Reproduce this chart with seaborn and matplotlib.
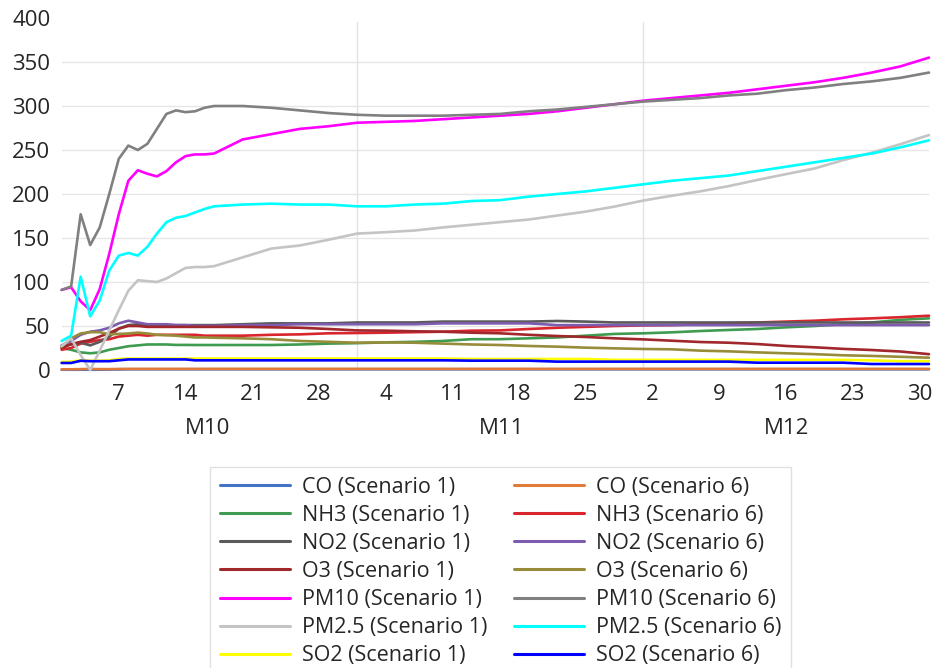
import pandas as pd
import matplotlib.pyplot as plt
import seaborn as sns
from matplotlib.lines import Line2D

# day index from 1 Oct (0) to 31 Dec (91)
days = [0, 1, 2, 3, 4, 5, 6, 7, 8, 9, 10, 11, 12, 13, 14, 15, 16,
        19, 22, 25, 28, 31, 34, 37, 40, 43, 46, 49, 52, 55, 58, 61,
        64, 67, 70, 73, 76, 79, 82, 85, 88, 91]

co_s1 = [0.3, 0.3, 0.3, 0.3, 0.3, 0.5, 0.6, 0.8, 0.8, 0.8, 0.8, 0.8, 0.8, 0.8, 0.8, 0.8, 0.8,
         0.8, 0.8, 0.8, 0.8, 0.8, 0.8, 0.8, 0.8, 0.8, 0.8, 0.8, 0.8, 0.8, 0.8, 0.8,
         0.8, 0.8, 0.8, 0.8, 0.8, 0.8, 0.8, 0.8, 0.8, 0.8]
co_s6 = [0.8, 0.8, 1.0, 1.2, 1.0, 1.0, 1.2, 1.3, 1.3, 1.3, 1.3, 1.3, 1.3, 1.3, 1.3, 1.3, 1.3,
         1.3, 1.3, 1.3, 1.3, 1.3, 1.3, 1.3, 1.3, 1.3, 1.3, 1.3, 1.3, 1.3, 1.3, 1.3,
         1.3, 1.3, 1.3, 1.3, 1.3, 1.3, 1.3, 1.3, 1.3, 1.3]
nh3_s1 = [25, 23, 20, 19, 20, 23, 25, 27, 28, 29, 29, 29, 28.5, 28.5, 28.4, 28.4, 28.4,
          28.4, 28.4, 29, 30, 30.5, 31.4, 32, 33, 35, 35, 36, 37, 39, 41, 41.7,
          42.8, 44.3, 45.5, 46.6, 48.5, 50, 52, 54, 57, 58.7]
nh3_s6 = [23, 25, 30, 32, 34, 35, 38, 39, 40, 39, 40, 40, 40, 40, 40, 39, 39,
          39, 40, 40.5, 41.7, 42, 42.4, 43, 43.5, 44.7, 45, 46.6, 48, 49, 50, 50.7,
          51, 52, 53, 54, 55, 56, 57.6, 58.7, 60, 61.7]
no2_s1 = [26.5, 29, 31, 28, 32, 38, 47, 51, 52, 51, 51, 51, 51, 51, 51, 51, 51,
          52, 53, 53, 53, 54, 54, 54, 55, 55, 55, 55, 55.7, 55, 54, 54,
          54, 54, 54, 54, 54, 54, 54, 54, 54, 54]
no2_s6 = [28, 33, 40, 43.5, 45, 48, 53, 56, 54, 52, 52, 52, 51, 51, 50, 50, 50,
          51, 51, 52, 52, 52, 52, 52, 53, 53, 53, 53, 51, 51, 51, 51,
          51, 51, 51, 51, 51, 51, 51, 51, 51, 51]
o3_s1 = [25, 29.5, 32, 34, 38, 42, 47, 50, 50, 49, 49, 49, 49, 49, 49, 49, 49,
         49, 48.5, 48, 46.6, 45, 44.7, 44, 43.5, 42.4, 41.7, 40, 38.6, 37.5, 36, 34.8,
         33.3, 31.8, 31, 29.5, 27.3, 25.8, 24, 22.7, 21, 18]
o3_s6 = [26.5, 36, 41.5, 43, 43, 40.5, 41, 41.5, 42.5, 41.5, 40, 39.5, 39, 38, 37, 37, 36.7,
         36, 35, 33, 32, 31, 31.4, 31, 30, 29, 28.4, 27.3, 26.5, 25.4, 24.6, 23.9,
         23.5, 22, 21.2, 20, 19, 18, 16.7, 16, 15, 14]
pm10_s1 = [91, 94, 78, 68, 92, 132, 177, 215, 227, 223, 220, 226, 236, 243, 245, 245, 246,
           262, 268, 274, 277, 281, 282, 283, 285, 287, 289, 291, 294, 298, 302, 306,
           309, 312, 315, 319, 323, 327, 332, 338, 345, 355]
pm10_s6 = [91, 95, 177, 142, 162, 200, 240, 255, 250, 257, 274, 291, 295, 293, 294, 298, 300,
           300, 298, 295, 292, 290, 289, 289, 289, 290, 291, 294, 296, 299, 302, 305,
           307, 309, 312, 314, 318, 321, 325, 328, 332, 338]
pm25_s1 = [27, 36, 17, 0, 22, 45, 68, 90, 102, 101, 100, 104, 110, 116, 117, 117, 118,
           128, 138, 141.5, 148, 155, 156.6, 158.5, 162, 165, 168, 171, 175.5, 180, 185.7, 192.5,
           198, 203, 209, 216, 222.6, 229, 238.5, 247, 256.6, 267]
pm25_s6 = [33, 39, 106, 61, 79, 113, 130, 133, 130, 140, 155, 168, 173, 175, 179, 183, 186,
           188, 189, 188, 188, 186, 186, 188, 189, 192, 193, 197, 200, 203, 207, 211,
           215, 218, 221, 226, 231, 236, 241, 246, 253, 261]
so2_s1 = [9, 9.5, 11, 10.5, 10.5, 11, 12.5, 13, 13, 13, 13, 13, 13, 13, 13, 13, 13,
          13, 13, 13, 13, 13, 13, 13, 13, 12.5, 12.5, 12.5, 12.5, 12.5, 11.5, 11.5,
          11.5, 11.5, 11.5, 11.5, 11.5, 11.5, 11.5, 11, 10, 10]
so2_s6 = [8, 8, 10.5, 10, 10, 10, 11, 12, 12, 12, 12, 12, 12, 12, 11, 11, 11,
          11, 11, 11, 11, 11, 11, 11, 11, 10.6, 10.6, 10.6, 9.5, 9.5, 9.5, 9.5,
          9.5, 9.5, 9.5, 8.3, 8.3, 8.3, 8.3, 6.8, 6.8, 6.8]

tick_days = [6, 13, 20, 27, 34, 41, 48, 55, 62, 69, 76, 83, 90]
tick_labels = ["7", "14", "21", "28", "4", "11", "18", "25", "2", "9", "16", "23", "30"]
months = ["M10", "M11", "M12"]
month_centers = [15.3, 46.2, 76.1]
month_starts = [31, 61]

series = {
    "CO (Scenario 1)": (co_s1, "#4472C4"),
    "CO (Scenario 6)": (co_s6, "#E07B39"),
    "NH3 (Scenario 1)": (nh3_s1, "#3E9B4F"),
    "NH3 (Scenario 6)": (nh3_s6, "#D9262E"),
    "NO2 (Scenario 1)": (no2_s1, "#5A5A5A"),
    "NO2 (Scenario 6)": (no2_s6, "#7D5BB0"),
    "O3 (Scenario 1)": (o3_s1, "#A0282C"),
    "O3 (Scenario 6)": (o3_s6, "#968C3A"),
    "PM10 (Scenario 1)": (pm10_s1, "#FF00FF"),
    "PM10 (Scenario 6)": (pm10_s6, "#808080"),
    "PM2.5 (Scenario 1)": (pm25_s1, "#C4C4C4"),
    "PM2.5 (Scenario 6)": (pm25_s6, "#00FFFF"),
    "SO2 (Scenario 1)": (so2_s1, "#FFFF00"),
    "SO2 (Scenario 6)": (so2_s6, "#0000FF"),
}

rows = []
for name, (vals, _) in series.items():
    for d, v in zip(days, vals):
        rows.append({"day": d, "value": v, "series": name})
df = pd.DataFrame(rows)

order = list(series.keys())
palette = {k: c for k, (_, c) in series.items()}

sns.set_style("white")
plt.rcParams["font.family"] = ["Open Sans", "DejaVu Sans"]

fig = plt.figure(figsize=(9.35, 6.68), dpi=100)
ax = fig.add_axes([61.6 / 935, 1 - 370 / 668, (929 - 61.6) / 935, 352 / 668])

sns.lineplot(data=df, x="day", y="value", hue="series", hue_order=order,
             palette=palette, estimator=None, errorbar=None, legend=False,
             linewidth=1.9, ax=ax)
for ln in ax.lines:
    ln.set_clip_on(False)

ax.set_xlim(0, 91)
ax.set_ylim(0, 400)
ax.set_yticks(range(0, 401, 50))
ax.set_xticks(tick_days)
ax.set_xticklabels(tick_labels)
ax.set_xlabel("")
ax.set_ylabel("")
ax.tick_params(axis="both", length=0, labelsize=16, colors="#262626")
ax.tick_params(axis="x", pad=10)
ax.tick_params(axis="y", pad=8)

for y in range(50, 351, 50):
    ax.axhline(y, color="#E6E6E6", lw=1, zorder=0)
for x in month_starts:
    ax.axvline(x, ymax=0.99, color="#E2E2E2", lw=1, zorder=0)
sns.despine(ax=ax, left=True, bottom=True)

for m, c in zip(months, month_centers):
    ax.text(c, -0.165, m, transform=ax.get_xaxis_transform(), ha="center",
            va="center", fontsize=16, color="#262626")

# legend: column 1 = Scenario 1, column 2 = Scenario 6
s1 = [k for k in order if "Scenario 1" in k]
s6 = [k for k in order if "Scenario 6" in k]
leg_names = s1 + s6
handles = [Line2D([], [], color=palette[k], lw=2.2) for k in leg_names]
leg = fig.legend(handles, leg_names, ncol=2, loc="upper left",
                 bbox_to_anchor=(210 / 935, 1 - 467 / 668), borderaxespad=0,
                 fontsize=15.5, frameon=True, fancybox=False, edgecolor="#D9D9D9",
                 handlelength=3.25, handletextpad=0.56, columnspacing=1.25,
                 labelspacing=0.33, borderpad=0.45)
leg.get_frame().set_linewidth(1)
for t in leg.get_texts():
    t.set_color("#262626")

fig.savefig("out.png", dpi=100)
